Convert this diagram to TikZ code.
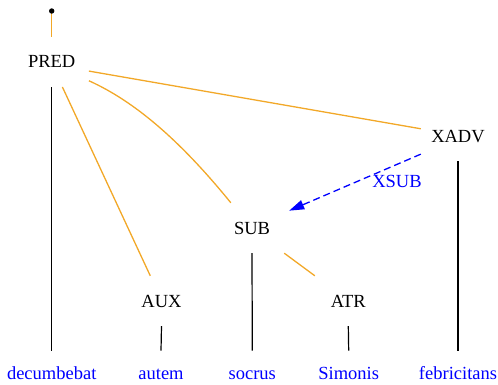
\documentclass[tikz,border=0pt]{standalone}
\usepackage{fontspec}
\setmainfont{Liberation Serif}
\usetikzlibrary{arrows.meta}
\definecolor{edgeorange}{RGB}{242,168,40}
\begin{document}
\begin{tikzpicture}[x=1pt,y=-1pt,
  lbl/.style={font=\fontsize{18.5}{20}\selectfont, inner sep=0pt,
              text height=12.3pt, text depth=0pt},
  deprel/.style={lbl, minimum width=74pt, minimum height=50pt},
  word/.style={lbl, text=blue, minimum height=46pt},
  dep/.style={draw=edgeorange, line width=1.3pt},
  tok/.style={draw=black, line width=1.2pt},
  sec/.style={draw=blue, line width=1.3pt, dash pattern=on 7pt off 4pt,
              -{Triangle[length=15pt,width=9.5pt]}}]
\useasboundingbox (0,0) rectangle (498,384);

% dependency relations
\node[deprel] (pred) at (51.7,61.8)  {PRED};
\node[deprel] (xadv) at (458,136)    {XADV};
\node[deprel] (sub)  at (252,228)    {SUB};
\node[deprel] (aux)  at (161.5,301)  {AUX};
\node[deprel] (atr)  at (348.3,301)  {ATR};

% tokens
\node[word] (w1) at (51.7,373.8)  {decumbebat};
\node[word] (w2) at (161,373.8)   {autem};
\node[word] (w3) at (252.3,373.8) {socrus};
\node[word] (w4) at (348.7,373.8) {Simonis};
\node[word] (w5) at (458,373.8)   {febricitans};

% root
\coordinate (root) at (51.7,11);
\draw[dep] (root) -- (pred.north);
\fill (root) circle (2.7pt);

% tree edges
\draw[dep] (pred.-14) -- (xadv.169.4);
\draw[dep] (pred.-27.7) .. controls +(-24.2:51pt) and +(129.1:79pt) .. (sub.130.2);
\draw[dep] (pred.-67) -- (aux.114.9);
\draw[dep] (sub.-38.5) -- (atr.143.4);

% secondary edge
\draw[sec] (xadv.-154.2) -- (sub.25.2);
\node[lbl, text=blue] (xsub) at (397,181.8) {XSUB};

% token links
\draw[tok] (pred.south) -- (w1.north);
\draw[tok] (aux.south)  -- (w2.north);
\draw[tok] (sub.south)  -- (w3.north);
\draw[tok] (atr.south)  -- (w4.north);
\draw[tok] (xadv.south) -- (w5.north);
\end{tikzpicture}
\end{document}
